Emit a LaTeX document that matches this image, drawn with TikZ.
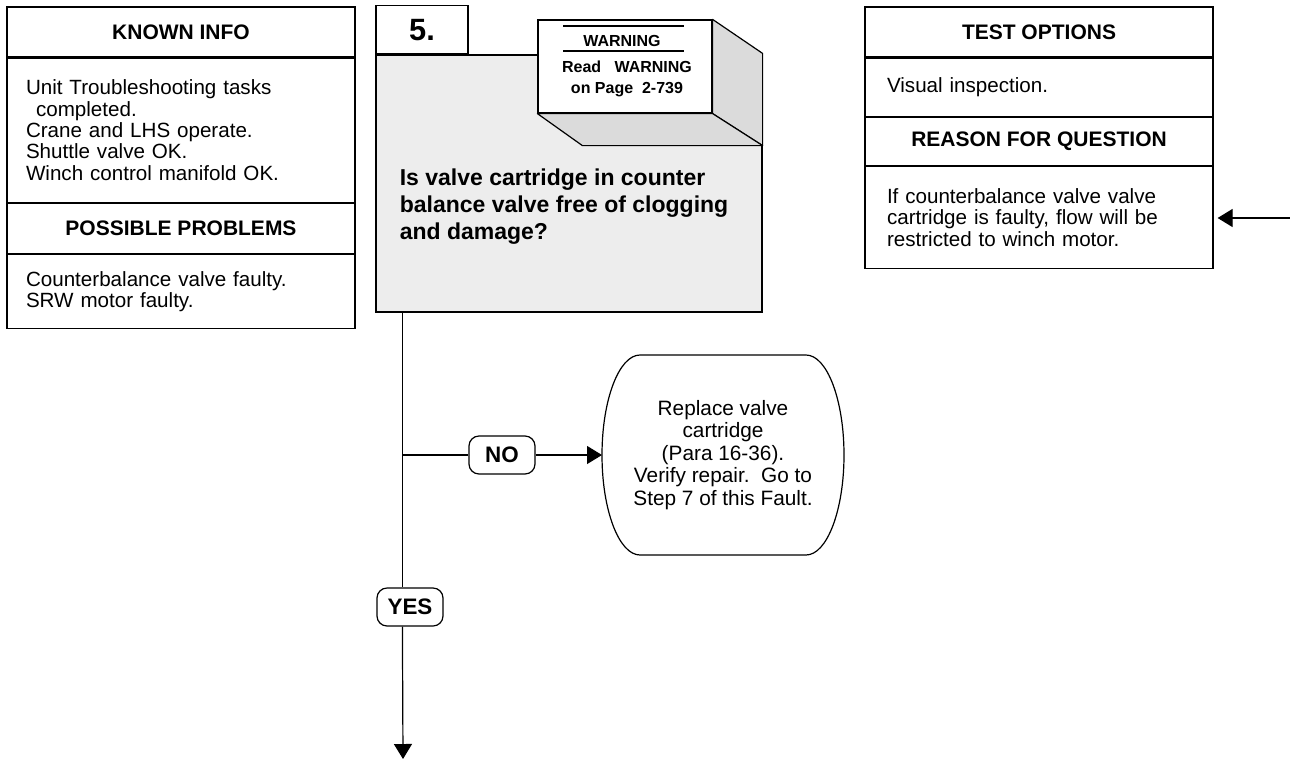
\documentclass[tikz,border=0pt]{standalone}
\usepackage{fontspec}
\setmainfont{Liberation Sans}
\usetikzlibrary{arrows.meta,positioning,calc}
\tikzset{main base/.style={draw,line width=0.6pt}, }
\tikzset{panel head/.style={rectangle,main base,minimum width=174pt,minimum height=25pt,
    inner sep=0pt,font=\fontsize{10.5}{12}\selectfont\bfseries}, }
\tikzset{panel body/.style={rectangle,main base,minimum width=174pt,text width=155pt,
    inner xsep=9.5pt,inner ysep=0pt,align=left,font=\fontsize{10.3}{10.7}\selectfont}, }
\tikzset{stepbox/.style={rectangle,main base,fill=black!7,minimum width=193pt,minimum height=128.5pt}, }
\tikzset{numbox/.style={rectangle,main base,fill=white,minimum width=46pt,minimum height=24pt,
    inner sep=0pt,font=\fontsize{15.4}{16}\selectfont\bfseries}, }
\tikzset{question/.style={inner sep=0pt,align=left,font=\fontsize{11.5}{13.5}\selectfont\bfseries}, }
\tikzset{warnbox/.style={rectangle,main base,fill=white,minimum width=87pt,minimum height=46.5pt}, }
\tikzset{warntext/.style={inner sep=0pt,align=center,font=\fontsize{8}{10.5}\selectfont\bfseries}, }
\tikzset{face/.style={main base,fill=black!14,line join=round}, }
\tikzset{
  action/.style={ % flat top and bottom, half-elliptic sides
    rectangle,outer sep=0pt,inner sep=0pt,
    minimum width=121pt,minimum height=100pt,align=center,
    font=\fontsize{10.4}{11.3}\selectfont,
    append after command={
      \pgfextra{
        \draw[main base]
        ($(\tikzlastnode.north west)+(19pt,0pt)$)--
        ($(\tikzlastnode.north east)-(19pt,0pt)$)
        arc[start angle=90,end angle=-90,x radius=19pt,y radius=50pt]--
        ($(\tikzlastnode.south west)+(19pt,0pt)$)
        arc[start angle=270,end angle=90,x radius=19pt,y radius=50pt]--cycle;
      }
    }
  },
}
\tikzset{lbl/.style={rectangle,rounded corners=5pt,main base,minimum width=33pt,minimum height=19pt,
    inner sep=0pt,font=\fontsize{11.2}{12}\selectfont\bfseries}, }
\tikzset{linea/.style={-{Triangle[length=7.5pt,width=9pt]},main base}}

\begin{document}
\begin{tikzpicture}[x=0.5pt,y=-0.5pt,node distance=0pt]
  \useasboundingbox (0,0) rectangle (1290,761);
  % known info and possible problems
  \node[panel head] (known) at (181,32) {KNOWN INFO};
  \node[panel body,minimum height=72pt] (knownbody) [below=of known]
    {Unit Troubleshooting tasks\\\hspace*{5pt}completed.\\Crane and LHS operate.\\Shuttle valve OK.\\Winch control manifold OK.};
  \node[panel head] (probs) [below=of knownbody] {POSSIBLE PROBLEMS};
  \node[panel body,minimum height=37pt] (probsbody) [below=of probs]
    {Counterbalance valve faulty.\\SRW motor faulty.};
  % test options and reason
  \node[panel head] (tests) at (1039,32) {TEST OPTIONS};
  \node[panel body,minimum height=29pt,text width=152pt,inner xsep=11pt] (testsbody) [below=of tests]
    {Visual inspection.};
  \node[panel head,minimum height=24pt] (reason) [below=of testsbody] {REASON FOR QUESTION};
  \node[panel body,minimum height=51pt,text width=152pt,inner xsep=11pt] (reasonbody) [below=of reason]
    {If counterbalance valve valve\\cartridge is faulty, flow will be\\restricted to winch motor.};
  % the step
  \node[stepbox] (q) at (569,183.5) {};
  \node[numbox] (num) [above right=0pt and 0pt of q.north west] {5.};
  \node[question,anchor=west] (qtext) at ($(q.west)+(24,23)$)
    {Is valve cartridge in counter\\balance valve free of clogging\\and damage?};
  % warning block
  \node[warnbox] (warn) at (625,66.5) {};
  \draw[face] (warn.north east) -- ++(50,34) -- ($(warn.south east)+(50,32)$) -- (warn.south east) -- cycle;
  \draw[face] (warn.south west) -- ++(45,32) -- ($(warn.south east)+(50,32)$) -- (warn.south east) -- cycle;
  \draw[line width=1pt] ($(warn.north)+(-62,7)$) -- ++(121,0);
  \draw[line width=1pt] ($(warn.north)+(-62,32)$) -- ++(121,0);
  \node[warntext] (warnhead) at ($(warn.north)+(-3,22)$) {WARNING};
  \node[warntext] (warnref) at ($(warn.north)+(2,59.5)$) {Read\ \ \ WARNING\\on Page\ \ 2-739};
  % answers
  \node[action] (fix) at (723,455)
    {Replace valve\\cartridge\\(Para 16-36).\hspace*{6pt}\\Verify repair.\ \ Go to\\Step 7 of this Fault.};
  \node[lbl] (no) at (502,455) {NO};
  \node[lbl] (yes) at (410,607) {YES};
  \coordinate (stem) at ($(q.south west)+(27,0)$);
  \coordinate (split) at (stem |- no);
  \coordinate (outlet) at (403,759);
  \coordinate (incoming) at (1290,218);
  \draw[main base] (stem) -- (stem |- yes.north);
  \draw[linea] (stem |- yes.south) -- (outlet);
  \draw[main base] (split) -- (no);
  \foreach \x/\y in {no/fix}
    \draw[linea] (\x) -- (\y);
  \draw[linea,shorten >=2pt] (incoming) -- (incoming -| reasonbody.east);
\end{tikzpicture}
\end{document}
